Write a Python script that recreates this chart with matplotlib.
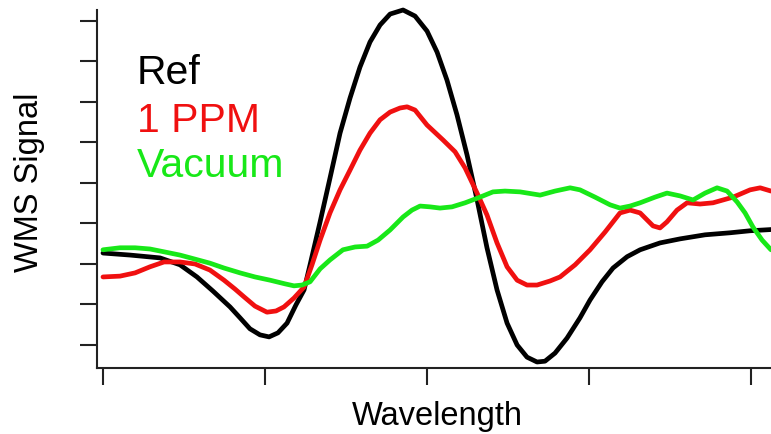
import numpy as np
import matplotlib
matplotlib.use("Agg")
import matplotlib.pyplot as plt

plt.rcParams['font.family'] = ['Liberation Sans', 'DejaVu Sans']

# data (x and y in tick units, ticks unlabeled)
ref_x = [0.000, 0.167, 0.352, 0.475, 0.580, 0.679, 0.784, 0.846, 0.907, 0.969, 1.025,
         1.080, 1.136, 1.191, 1.241, 1.278, 1.340, 1.401, 1.463, 1.525, 1.586, 1.648,
         1.710, 1.772, 1.852, 1.926, 2.000, 2.062, 2.123, 2.185, 2.247, 2.309, 2.370,
         2.432, 2.494, 2.556, 2.617, 2.679, 2.728, 2.790, 2.864, 2.944, 3.006, 3.080,
         3.148, 3.235, 3.315, 3.438, 3.562, 3.716, 3.870, 3.994, 4.123]
ref_y = [2.27, 2.22, 2.15, 1.98, 1.68, 1.33, 0.94, 0.67, 0.40, 0.25, 0.20,
         0.30, 0.54, 0.99, 1.36, 1.98, 3.04, 4.12, 5.23, 6.10, 6.86, 7.48,
         7.90, 8.17, 8.27, 8.12, 7.75, 7.23, 6.54, 5.68, 4.69, 3.58, 2.40,
         1.36, 0.54, 0.00, -0.30, -0.42, -0.40, -0.20, 0.17, 0.67, 1.11, 1.56,
         1.90, 2.18, 2.35, 2.52, 2.62, 2.72, 2.77, 2.82, 2.85]

ppm_x = [0.000, 0.105, 0.198, 0.290, 0.377, 0.475, 0.568, 0.660, 0.747, 0.815, 0.870,
         0.938, 1.012, 1.068, 1.117, 1.179, 1.241, 1.290, 1.340, 1.401, 1.463, 1.525,
         1.586, 1.648, 1.710, 1.772, 1.833, 1.877, 1.926, 2.000, 2.099, 2.173, 2.235,
         2.309, 2.370, 2.432, 2.494, 2.556, 2.617, 2.679, 2.759, 2.821, 2.914, 3.006,
         3.099, 3.191, 3.253, 3.315, 3.395, 3.438, 3.481, 3.543, 3.605, 3.685, 3.765,
         3.889, 3.994, 4.056, 4.123]
ppm_y = [1.68, 1.70, 1.78, 1.93, 2.05, 2.05, 2.00, 1.85, 1.60, 1.38, 1.19,
         0.96, 0.81, 0.84, 0.94, 1.16, 1.43, 1.98, 2.59, 3.26, 3.83, 4.32,
         4.81, 5.23, 5.56, 5.75, 5.85, 5.88, 5.80, 5.43, 5.06, 4.77, 4.37,
         3.75, 3.21, 2.52, 1.93, 1.60, 1.48, 1.48, 1.58, 1.68, 1.98, 2.35,
         2.79, 3.26, 3.33, 3.26, 2.94, 2.89, 3.04, 3.33, 3.51, 3.48, 3.51,
         3.65, 3.83, 3.88, 3.80]

vac_x = [0.000, 0.105, 0.198, 0.290, 0.377, 0.475, 0.568, 0.660, 0.747, 0.846, 0.938,
         1.031, 1.123, 1.179, 1.228, 1.278, 1.340, 1.401, 1.481, 1.556, 1.630, 1.698,
         1.772, 1.852, 1.907, 1.957, 2.019, 2.080, 2.154, 2.235, 2.327, 2.407, 2.481,
         2.574, 2.698, 2.790, 2.883, 2.944, 3.037, 3.130, 3.191, 3.253, 3.315, 3.407,
         3.481, 3.562, 3.642, 3.716, 3.790, 3.852, 3.914, 3.963, 4.012, 4.068, 4.123]
vac_y = [2.35, 2.40, 2.40, 2.37, 2.30, 2.22, 2.12, 2.02, 1.90, 1.78, 1.68,
         1.60, 1.51, 1.46, 1.48, 1.56, 1.88, 2.10, 2.35, 2.42, 2.44, 2.59,
         2.84, 3.16, 3.33, 3.43, 3.41, 3.38, 3.41, 3.51, 3.65, 3.78, 3.80,
         3.78, 3.70, 3.80, 3.88, 3.83, 3.65, 3.46, 3.38, 3.43, 3.51, 3.65,
         3.75, 3.68, 3.58, 3.75, 3.88, 3.80, 3.53, 3.26, 2.91, 2.59, 2.35]

labels = ['Ref', '1 PPM', 'Vacuum']
colors = ['black', '#f01010', '#18e818']

W, H = 771, 434
fig = plt.figure(figsize=(W / 100, H / 100), dpi=100)
ax = fig.add_axes([97 / W, 66 / H, 674 / W, 358 / H])

for xs, ys, col in zip([ref_x, ppm_x, vac_x], [ref_y, ppm_y, vac_y], colors):
    ax.plot(xs, ys, color=col, lw=3.4, clip_on=False,
            solid_joinstyle='round', solid_capstyle='round')

ax.set_xlim(-0.037, 4.123)
ax.set_ylim(-0.568, 8.27)
ax.set_xticks(range(5))
ax.set_yticks(range(9))
ax.set_xticklabels([])
ax.set_yticklabels([])
ax.tick_params(direction='out', length=12, width=1.5, color='#222222')
for side in ['top', 'right']:
    ax.spines[side].set_visible(False)
for side in ['left', 'bottom']:
    ax.spines[side].set_linewidth(1.5)
    ax.spines[side].set_color('#222222')

# legend-style labels
for lab, col, yb in zip(labels, colors, [84, 132, 177]):
    fig.text(137 / W, 1 - yb / H, lab, color=col, fontsize=29.5, va='baseline', ha='left')

fig.text(437 / W, 1 - 425 / H, 'Wavelength', fontsize=23.5, ha='center', va='baseline')
fig.text(30 / W, 1 - 182 / H, 'WMS Signal', fontsize=23.5, rotation=90,
         ha='center', va='center')

fig.savefig('out.png', dpi=100)
